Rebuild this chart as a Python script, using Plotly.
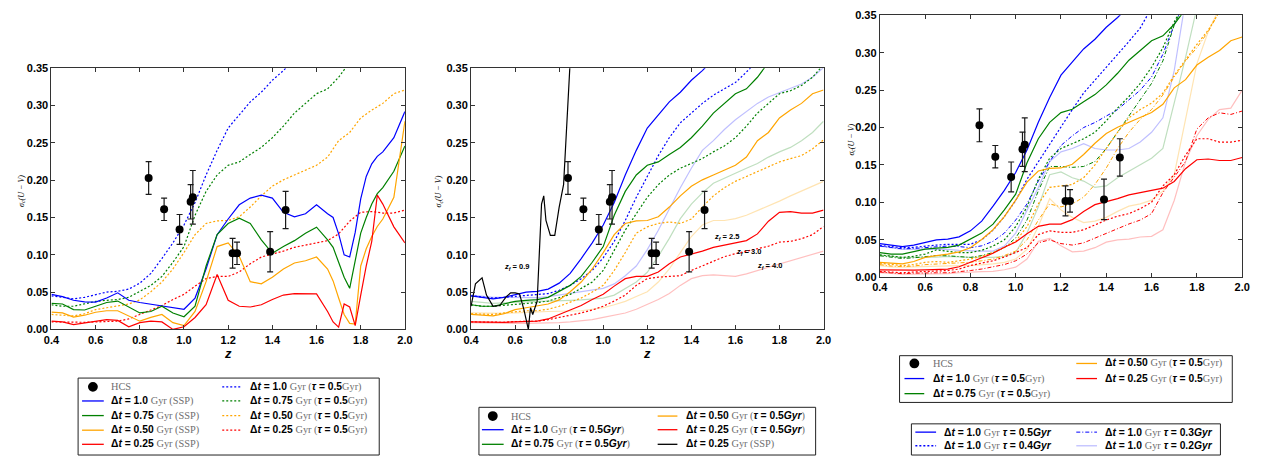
import plotly.graph_objects as go

W, H = 1262, 462

# ---------------- data ----------------
HCS_Z = [0.84, 0.91, 0.98, 1.03, 1.04, 1.22, 1.24, 1.39, 1.46]
HCS_S = [0.203, 0.161, 0.134, 0.171, 0.177, 0.102, 0.102, 0.104, 0.160]
HCS_ERR = [0.022, 0.015, 0.020, 0.023, 0.036, 0.020, 0.015, 0.027, 0.025]

Z = [0.40, 0.45, 0.50, 0.55, 0.60, 0.65, 0.70, 0.75, 0.80, 0.85, 0.90, 0.95, 1.00,
     1.05, 1.10, 1.15, 1.20, 1.25, 1.30, 1.35, 1.40, 1.45, 1.50, 1.55, 1.60, 1.65,
     1.70, 1.75, 1.80, 1.85, 1.90, 1.95, 2.00]

Z_SSP = [0.40, 0.45, 0.50, 0.55, 0.60, 0.65, 0.70, 0.75, 0.80, 0.85, 0.90, 0.95, 1.00,
         1.05, 1.10, 1.15, 1.20, 1.25, 1.30, 1.35, 1.40, 1.45, 1.50, 1.55, 1.60, 1.65,
         1.675, 1.70, 1.725, 1.75, 1.775, 1.80, 1.825, 1.85, 1.875, 1.90, 1.95, 2.00]

# SSP models (panel 1, solid)
SSP_100 = [.047, .044, .039, .037, .0366, .042, .049, .039, .036, .034, .032, .030, .027,
           .042, .081, .127, .148, .167, .176, .180, .176, .157, .151, .155, .167, .155,
           .150, .128, .100, .097, .130, .175, .205, .222, .232, .238, .257, .292]
SSP_075 = [.035, .034, .0265, .026, .031, .036, .038, .030, .022, .024, .031, .022, .017,
           .031, .085, .127, .142, .149, .142, .120, .102, .111, .119, .129, .137, .120,
           .110, .090, .070, .055, .090, .129, .150, .168, .182, .190, .212, .246]
SSP_050 = [.023, .022, .0165, .019, .023, .025, .025, .018, .011, .016, .020, .009, .005,
           .024, .064, .111, .116, .098, .064, .061, .070, .081, .089, .092, .097, .081,
           .065, .042, .020, .008, .007, .085, .108, .1245, .138, .148, .177, .279]
SSP_025 = [.011, .010, .0065, .009, .011, .013, .012, .0035, .009, .011, .010, .0, .0035,
           .016, .033, .0735, .039, .031, .030, .033, .040, .046, .048, .0475, .0475, .024,
           .010, .003, .034, .030, .005, .046, .085, .118, .180, .168, .1375, .116]

# exponential SFH, tau = 0.5 Gyr, z_f = 2.5
T05_100 = [.045, .043, .041, .043, .047, .050, .051, .054, .062, .075, .095, .116, .140,
           .170, .207, .240, .270, .288, .305, .318, .334, .347, .362, None, None, None,
           None, None, None, None, None, None, None]
T05_075 = [.033, .031, .031, .034, .0375, .039, .040, .043, .0505, .059, .071, .090, .111,
           .153, .185, .207, .220, .2245, .2345, .244, .257, .2725, .290, .303, .316, .3225,
           .338, .358, None, None, None, None, None]
T05_050 = [.020, .019, .018, .021, .0265, .029, .031, .034, .0395, .0505, .0635, .081, .103,
           .127, .142, .1455, .146, .151, .164, .179, .192, .2005, .207, .214, .220, .231,
           .253, .264, .2835, .294, .303, .316, .321]
T05_025 = [.010, .0095, .009, .0095, .010, .011, .011, .014, .020, .025, .032, .040, .047,
           .058, .068, .071, .071, .077, .088, .097, .1005, .105, .110, .113, .116, .119,
           .128, .145, .157, .158, .156, .156, .160]

# tau = 0.5 Gyr, z_f = 3.0 (panel 2, dotted)
ZF3_100 = [.045, .043, .042, .043, .044, .045, .046, .048, .0525, .059, .068, .079, .096,
           .118, .146, .177, .205, .233, .257, .277, .290, .303, .314, .3225, .331, .345,
           .360, None, None, None, None, None, None]
ZF3_075 = [.033, .031, .031, .032, .034, .035, .036, .038, .042, .047, .055, .0635, .079,
           .107, .133, .155, .177, .194, .207, .216, .2225, .229, .238, .246, .257, .2725,
           .290, .303, .316, .320, .327, .338, .355]
ZF3_050 = [.021, .020, .020, .022, .024, .025, .025, .027, .031, .036, .042, .050, .059,
           .079, .103, .129, .1375, .142, .144, .142, .148, .164, .179, .190, .1985, .205,
           .2115, .218, .2245, .229, .233, .242, .254]
ZF3_025 = [.010, .0095, .009, .0095, .0105, .011, .011, .013, .016, .019, .022, .026, .031,
           .038, .046, .059, .068, .070, .0715, .072, .079, .085, .092, .0975, .1015, .105,
           .108, .1115, .117, .118, .1215, .127, .138]

# tau = 0.5 Gyr, z_f = 4.0 (panel 2, light)
ZF4_100 = [.046, .044, .043, .043, .043, .043, .0425, .044, .046, .048, .0505, .053, .055,
           .061, .072, .085, .107, .133, .1615, .190, .216, .240, .253, .268, .281, .292,
           .303, .3115, .317, .3225, .329, .338, .351]
ZF4_075 = [.0375, .036, .035, .0355, .0365, .037, .0375, .038, .038, .039, .0395, .041, .042,
           .046, .055, .0635, .0765, .098, .122, .1485, .168, .183, .196, .203, .2095, .216,
           .2225, .231, .238, .244, .253, .264, .279]
ZF4_050 = [.022, .0215, .021, .0215, .022, .023, .0235, .024, .024, .0245, .025, .027, .029,
           .033, .0375, .044, .0505, .0635, .081, .103, .1245, .140, .146, .146, .1485, .153,
           .159, .1655, .172, .179, .1855, .192, .1985]
ZF4_025 = [.009, .0085, .008, .008, .008, .008, .008, .0085, .009, .010, .011, .013, .016,
           .019, .022, .027, .033, .040, .048, .059, .068, .072, .073, .072, .071, .0745,
           .079, .083, .0875, .092, .096, .1005, .105]

# SSP, dt = 0.25 Gyr, z_f = 0.9 (panel 2, black)
Z_BLK = [0.40, 0.42, 0.45, 0.47, 0.50, 0.53, 0.56, 0.58, 0.60, 0.62, 0.64, 0.66, 0.67,
         0.68, 0.69, 0.70, 0.72, 0.73, 0.74, 0.76, 0.78, 0.80, 0.82, 0.84, 0.85]
SSP_ZF09 = [.031, .061, .069, .046, .031, .032, .044, .049, .049, .0475, .0265, .0, .029,
            .020, .029, .0375, .168, .179, .146, .126, .126, .164, .194, .2985, .360]

# dt = 1.0 .. 0.25 Gyr with tau = 0.4 / 0.3 / 0.2 Gyr (panel 3)
T04_100 = [.0425, .041, .0395, .040, .0417, .043, .044, .044, .044, .050, .063, .081, .1025,
           .131, .1545, .178, .202, .224, .246, .263, .2805, .298, .315, .333, .360, None,
           None, None, None, None, None, None, None]
T04_075 = [.030, .028, .0265, .028, .031, .0365, .0343, .033, .033, .036, .0417, .050, .0677,
           .094, .131, .159, .172, .1785, .185, .1937, .209, .226, .2414, .259, .2805, .3066,
           .341, .370, None, None, None, None, None]
T04_050 = [.0187, .017, .0156, .017, .020, .021, .020, .022, .0243, .028, .033, .040, .048,
           .0677, .098, .120, .122, .124, .133, .150, .172, .1937, .213, .224, .2327, .2458,
           .2696, .291, .311, .330, .355, None, None]
T04_025 = [.0078, .007, .006, .007, .0078, .0085, .009, .011, .0156, .019, .022, .027, .033,
           .0395, .057, .062, .060, .060, .0634, .070, .0764, .0816, .085, .0916, .1003, .122,
           .137, .163, .185, .185, .1806, .1806, .183]
T03_100 = [.0417, .040, .038, .0385, .0395, .041, .0417, .041, .0395, .042, .048, .059, .0764,
           .098, .1285, .1545, .176, .189, .200, .2067, .2154, .224, .237, .250, .2675, .298,
           .337, .370, None, None, None, None, None]
T03_075 = [.0287, .027, .025, .026, .0278, .029, .0287, .028, .0265, .029, .033, .0395, .0525,
           .0764, .1155, .148, .148, .1468, .148, .1546, .172, .1937, .2154, .237, .259, .289,
           .337, .370, None, None, None, None, None]
T03_050 = [.0169, .015, .0143, .015, .0169, .0175, .0178, .019, .020, .022, .0243, .029, .035,
           .050, .0764, .098, .094, .098, .107, .124, .146, .172, .1937, .211, .224, .2436,
           .2675, .289, .3066, .328, .355, None, None]
T03_025 = [.007, .006, .0048, .0055, .006, .006, .006, .007, .009, .011, .0135, .017, .022,
           .031, .046, .050, .045, .043, .046, .0525, .059, .0656, .0712, .0764, .085, .113,
           .133, .1546, .198, .213, .2197, .2175, .222]
T02_100 = [.0417, .039, .0373, .0373, .0373, .0373, .0373, .036, .035, .035, .035, .0417, .059,
           .0895, .120, .1545, .1675, .172, .1785, .172, .170, .170, .172, .1806, .1937, .213,
           .276, .370, None, None, None, None, None]
T02_075 = [.0295, .028, .0265, .0265, .0265, .027, .0278, .027, .0265, .0265, .0265, .028, .033,
           .059, .094, .137, .1407, .133, .1285, .120, .122, .133, .1415, .150, .159, .172,
           .2327, .2935, .360, None, None, None, None]
T02_050 = [.0156, .014, .0135, .014, .0148, .015, .0156, .0156, .0156, .0165, .0178, .020, .0243,
           .0373, .0677, .105, .090, .080, .073, .075, .080, .088, .095, .098, .103, .115,
           .137, .211, .285, .328, .360, None, None]
T02_025 = [.006, .005, .0043, .0043, .0043, .0045, .0048, .006, .007, .0075, .0078, .010, .0135,
           .0243, .048, .052, .042, .034, .035, .0395, .0469, .050, .051, .0538, .0547, .0634,
           .1025, .1546, .189, .211, .224, .226, .250]

ZF_LABELS = ["0.9", "2.5", "3.0", "4.0"]
ZF_LABEL_Z = [0.606, 1.558, 1.66, 1.757]
ZF_LABEL_Y = [0.083, 0.1245, 0.104, 0.0845]

X_TICKS = [0.4, 0.6, 0.8, 1.0, 1.2, 1.4, 1.6, 1.8, 2.0]
Y_TICKS = [0.00, 0.05, 0.10, 0.15, 0.20, 0.25, 0.30, 0.35]

# ---------------- styles ----------------
BLUE, GREEN, ORANGE, RED = "#0000ff", "#008000", "#ffa500", "#ff0000"
LBLUE, LGREEN, LORANGE, LRED = ("rgba(0,0,255,0.25)", "rgba(0,128,0,0.25)",
                                "rgba(255,165,0,0.3)", "rgba(255,0,0,0.25)")
DOT = "2px,2px"
DASHDOT = "4px,2px,1px,2px"
LW = 1.2
SANS = "Liberation Sans"
SERIF = "Liberation Serif"

fig = go.Figure()


def add_line(z, y, ax, color, dash="solid", width=LW):
    fig.add_trace(go.Scatter(x=z, y=y, xaxis="x" + ax, yaxis="y" + ax, mode="lines",
                             line=dict(color=color, dash=dash, width=width),
                             showlegend=False, hoverinfo="skip", connectgaps=False))


def add_hcs(ax):
    fig.add_trace(go.Scatter(x=HCS_Z, y=HCS_S, xaxis="x" + ax, yaxis="y" + ax,
                             mode="markers", name="HCS",
                             marker=dict(color="black", size=8),
                             error_y=dict(type="data", array=HCS_ERR, color="#1a1a1a",
                                          thickness=1.2, width=3),
                             showlegend=False))


# panel 1
for yv, c in [(T05_100, BLUE), (T05_075, GREEN), (T05_050, ORANGE), (T05_025, RED)]:
    add_line(Z, yv, "", c, DOT)
for yv, c in [(SSP_100, BLUE), (SSP_075, GREEN), (SSP_050, ORANGE), (SSP_025, RED)]:
    add_line(Z_SSP, yv, "", c)
add_hcs("")

# panel 2
for yv, c in [(ZF4_100, LBLUE), (ZF4_075, LGREEN), (ZF4_050, LORANGE), (ZF4_025, LRED)]:
    add_line(Z, yv, "2", c)
for yv, c in [(ZF3_100, BLUE), (ZF3_075, GREEN), (ZF3_050, ORANGE), (ZF3_025, RED)]:
    add_line(Z, yv, "2", c, DOT)
for yv, c in [(T05_100, BLUE), (T05_075, GREEN), (T05_050, ORANGE), (T05_025, RED)]:
    add_line(Z, yv, "2", c)
add_line(Z_BLK, SSP_ZF09, "2", "black")
add_hcs("2")

# panel 3
for yv, c in [(T02_100, LBLUE), (T02_075, LGREEN), (T02_050, LORANGE), (T02_025, LRED)]:
    add_line(Z, yv, "3", c)
for yv, c in [(T03_100, BLUE), (T03_075, GREEN), (T03_050, ORANGE), (T03_025, RED)]:
    add_line(Z, yv, "3", c, DASHDOT, 1.0)
for yv, c in [(T04_100, BLUE), (T04_075, GREEN), (T04_050, ORANGE), (T04_025, RED)]:
    add_line(Z, yv, "3", c, DOT)
for yv, c in [(T05_100, BLUE), (T05_075, GREEN), (T05_050, ORANGE), (T05_025, RED)]:
    add_line(Z, yv, "3", c)
add_hcs("3")

# ---------------- axes ----------------
tickfont = dict(family=SANS, size=11, color="black", weight="bold")
common = dict(showline=True, linecolor="#333", linewidth=1, mirror="ticks", ticks="inside",
              ticklen=4, tickcolor="#333", showgrid=False, zeroline=False, tickfont=tickfont)


def xa(x0, x1, anchor):
    return dict(domain=[x0 / W, x1 / W], range=[0.4, 2.0], tickvals=X_TICKS,
                tickformat=".1f", anchor=anchor, **common)


def ya(y0, y1, anchor):
    return dict(domain=[1 - y1 / H, 1 - y0 / H], range=[0, 0.35], tickvals=Y_TICKS,
                tickformat=".2f", anchor=anchor, **common)


fig.update_layout(
    width=W, height=H, margin=dict(l=0, r=0, t=0, b=0),
    paper_bgcolor="white", plot_bgcolor="white", showlegend=False,
    font=dict(family=SANS, color="black"),
    xaxis=xa(44, 402, "y"), yaxis=ya(64, 332, "x"),
    xaxis2=xa(469, 826, "y2"), yaxis2=ya(64, 332, "x2"),
    xaxis3=xa(883, 1250, "y3"), yaxis3=ya(9.5, 278.5, "x3"),
)

annotations = []
shapes = []

# x-axis titles "z"
for ax, dy in [("", -0.093), ("2", -0.093)]:
    annotations.append(dict(x=0.5, y=dy, xref="x%s domain" % ax, yref="y%s domain" % ax,
                            text="<b><i>z</i></b>", showarrow=False,
                            font=dict(family=SANS, size=13, color="#000000"),
                            xanchor="center", yanchor="middle"))
# panel 3 title drawn as an unclipped text mark below its axis
fig.add_trace(go.Scatter(x=[1.2], y=[-0.0375], xaxis="x3", yaxis="y3", mode="text",
                         text=["<b><i>z</i></b>"], cliponaxis=False, showlegend=False,
                         textfont=dict(family=SANS, size=13, color="black"),
                         hoverinfo="skip"))

for cx, cy in [(14, 190), (437, 190), (855, 137)]:
    annotations.append(dict(x=cx / W, y=1 - cy / H, xref="paper", yref="paper",
                            text="<i>σ<sub>c</sub>(U − V)</i>", showarrow=False, textangle=-90,
                            font=dict(family=SERIF, size=8, color="black"),
                            xanchor="center", yanchor="middle"))

# z_f labels (panel 2)
for lab, zx, yy in zip(ZF_LABELS, ZF_LABEL_Z, ZF_LABEL_Y):
    annotations.append(dict(x=zx, y=yy, xref="x2", yref="y2",
                            text="<b><i>z<sub>f</sub></i> = " + lab + "</b>", showarrow=False,
                            font=dict(family=SANS, size=7.5, color="black"),
                            xanchor="center", yanchor="middle"))

# ---------------- legends ----------------
GRAY = "#6e6e6e"
LEG_FS = 10.3


def G(s):
    return '<span style="font-family:%s;color:%s">%s</span>' % (SERIF, GRAY, s)


def DT(v):
    return "<b>Δ<i>t</i> = %s</b> " % v


def lab_ssp(v):
    return DT(v) + G("Gyr (SSP)")


def lab_tau(v):
    return DT(v) + G("Gyr (") + "<b><i>τ</i> = 0.5</b>" + G("Gyr)")


def lab_tau2(v):
    return DT(v) + G("Gyr (") + "<b><i>τ</i> = 0.5<i>Gyr</i></b>" + G(")")


def lab_tau3(t):
    return DT("1.0") + G("Gyr") + " <b><i>τ</i> = %s<i>Gyr</i></b>" % t


def box(x0, y0, x1, y1):
    shapes.append(dict(type="rect", xref="paper", yref="paper", x0=x0 / W, x1=x1 / W,
                       y0=1 - y1 / H, y1=1 - y0 / H, line=dict(color="#222", width=1),
                       fillcolor="rgba(0,0,0,0)", layer="above"))


def entry(kind, color, dash, label, sx0, sx1, tx, y, width=1.3):
    if kind == "dot":
        cx = (sx0 + sx1) / 2
        r = 5
        shapes.append(dict(type="circle", xref="paper", yref="paper",
                           x0=(cx - r) / W, x1=(cx + r) / W, y0=1 - (y + r) / H,
                           y1=1 - (y - r) / H, fillcolor="black", line=dict(width=0)))
    else:
        shapes.append(dict(type="line", xref="paper", yref="paper", x0=sx0 / W, x1=sx1 / W,
                           y0=1 - y / H, y1=1 - y / H,
                           line=dict(color=color, width=width, dash=dash)))
    annotations.append(dict(x=(tx - 2) / W, y=1 - y / H, xref="paper", yref="paper",
                            text=label, showarrow=False, xanchor="left", yanchor="middle",
                            font=dict(family=SANS, size=LEG_FS, color="black")))


# legend 1
box(71, 382, 376, 461)
rows1 = [391, 405.5, 420.5, 435.5, 450]
c1 = (75, 97, 104)
c2 = (217, 237, 245)
entry("dot", "black", "solid", G("HCS"), *c1, rows1[0])
for r, (v, col) in enumerate([("1.0", BLUE), ("0.75", GREEN), ("0.50", ORANGE), ("0.25", RED)]):
    entry("line", col, "solid", lab_ssp(v), *c1, rows1[r + 1])
    entry("line", col, DOT, lab_tau(v), *c2, rows1[r])

# legend 2
box(477, 412, 818, 461)
rows2 = [421, 435, 450]
c1 = (480, 502, 509)
c2 = (658, 678, 687)
entry("dot", "black", "solid", G("HCS"), *c1, rows2[0])
entry("line", BLUE, "solid", lab_tau2("1.0"), *c1, rows2[1])
entry("line", GREEN, "solid", lab_tau2("0.75"), *c1, rows2[2])
entry("line", ORANGE, "solid", lab_tau2("0.50"), *c2, rows2[0])
entry("line", RED, "solid", lab_tau2("0.25"), *c2, rows2[1])
entry("line", "black", "solid", lab_ssp("0.25"), *c2, rows2[2])

# legend 3 (top)
box(903, 359, 1240, 407)
rows3 = [367, 382.5, 398]
c1 = (908, 928, 937)
c2 = (1082, 1103, 1111)
entry("dot", "black", "solid", G("HCS"), *c1, rows3[0])
entry("line", BLUE, "solid", lab_tau("1.0"), *c1, rows3[1])
entry("line", GREEN, "solid", lab_tau("0.75"), *c1, rows3[2])
entry("line", ORANGE, "solid", lab_tau("0.50"), *c2, rows3[0])
entry("line", RED, "solid", lab_tau("0.25"), *c2, rows3[1])

# legend 3 (bottom)
box(915, 429, 1228, 461)
rows4 = [437.5, 451.5]
c1 = (919, 940, 948)
c2 = (1082, 1103, 1111)
entry("line", BLUE, "solid", lab_tau3("0.5"), *c1, rows4[0])
entry("line", BLUE, DOT, lab_tau3("0.4"), *c1, rows4[1])
entry("line", BLUE, DASHDOT, lab_tau3("0.3"), *c2, rows4[0], 1.0)
entry("line", LBLUE, "solid", lab_tau3("0.2"), *c2, rows4[1])

fig.update_layout(annotations=annotations, shapes=shapes)
fig.write_html("out.html")
